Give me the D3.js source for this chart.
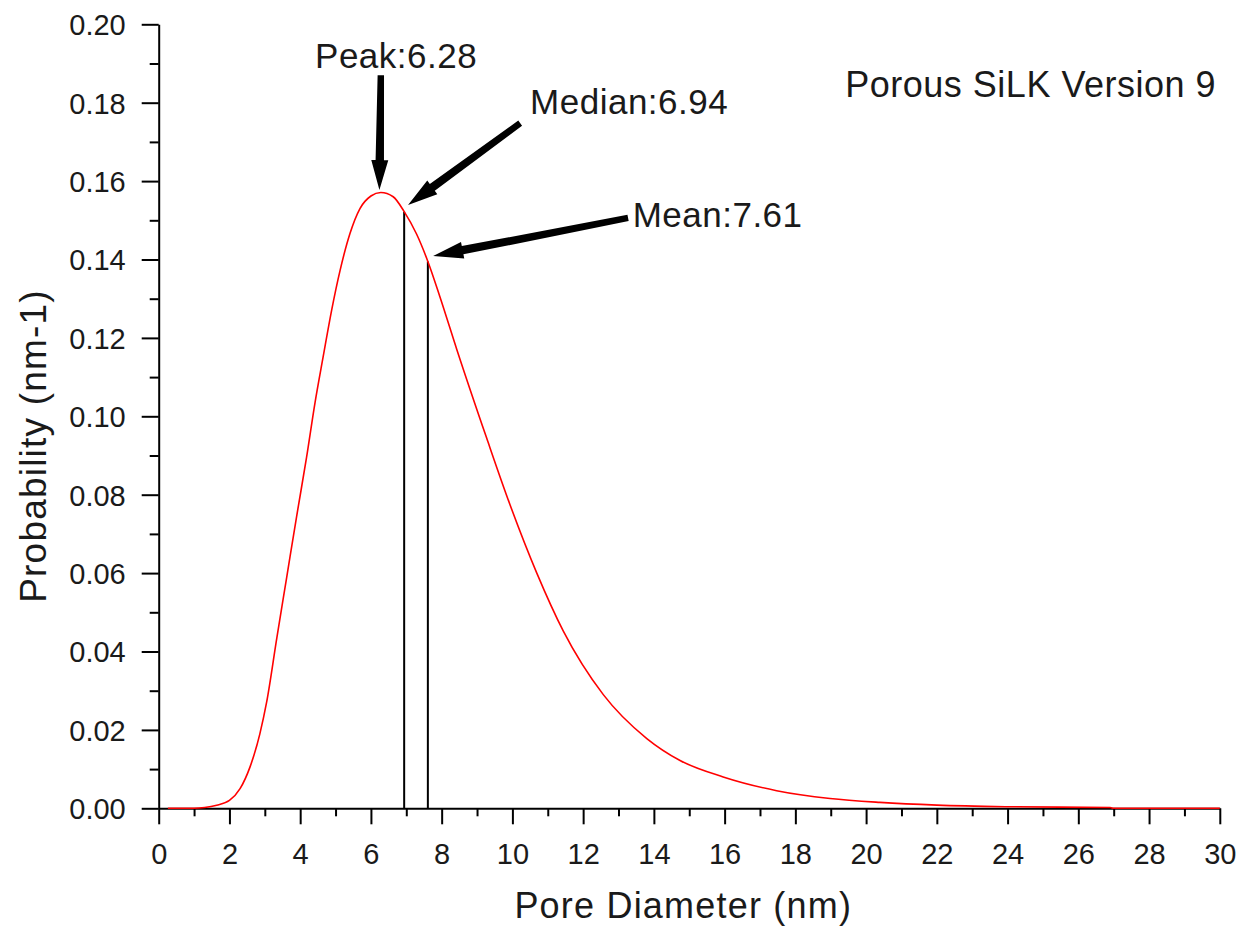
<!DOCTYPE html>
<html>
<head>
<meta charset="utf-8">
<script src="https://cdn.jsdelivr.net/npm/d3@7"></script>
<style>
  html, body { margin: 0; padding: 0; background: #fff; }
  svg { display: block; }
  text { font-family: "Liberation Sans", Arial, sans-serif; fill: #1a1a1a; }
</style>
</head>
<body>
<svg id="chart" width="1245" height="929"></svg>
<script>
// Pore size distribution (probability density vs. pore diameter)
const poreDiameter = [0.26, 1.0, 1.3, 1.64, 2.0, 2.3, 2.58, 2.86, 3.05, 3.34, 3.62, 3.9, 4.18, 4.42, 4.65, 4.89,
  5.13, 5.41, 5.69, 6.0, 6.28, 6.63, 6.94, 7.29, 7.61, 7.95, 8.43, 9.27, 9.93, 10.69, 11.44,
  12.57, 13.8, 14.74, 15.96, 17.47, 18.98, 20.39, 22.0, 24.0, 26.9, 27.0, 30.0];
const probability = [0, 0, 0.0002, 0.0008, 0.002, 0.005, 0.0105, 0.019, 0.027, 0.0435, 0.059, 0.0745, 0.0895, 0.1035, 0.1152, 0.1271,
  0.1373, 0.1467, 0.153, 0.1562, 0.1571, 0.156, 0.1522, 0.1465, 0.1395, 0.1305, 0.117, 0.0945, 0.0775, 0.06, 0.0452,
  0.029, 0.0178, 0.0122, 0.008, 0.0045, 0.0025, 0.0015, 0.0008, 0.0004, 0.0002, 0, 0];

// Statistics of the distribution
const statNames = ["Peak", "Median", "Mean"];
const statValues = [6.28, 6.94, 7.61];
const statHeights = [0.1571, 0.1522, 0.1395]; // curve value at each statistic

// Tick values
const xMajorTicks = d3.range(0, 31, 2);
const xMinorTicks = d3.range(1, 30, 2);
const yMajorTicks = d3.range(0, 0.2001, 0.02);
const yMinorTicks = d3.range(0.01, 0.2, 0.02);

const chartTitle = "Porous SiLK Version 9";
const xTitle = "Pore Diameter (nm)";
const yTitle = "Probability (nm-1)";

// ---- layout ----
const svg = d3.select("#chart");
const plot = { left: 158.7, right: 1219.8, top: 24.3, bottom: 808.3 };

const x = d3.scaleLinear().domain([0, 30]).range([plot.left, plot.right]);
const y = d3.scaleLinear().domain([0, 0.2]).range([plot.bottom, plot.top]);

// curve
const pts = poreDiameter.map((d, i) => [d, probability[i]]);
const line = d3.line().x(d => x(d[0])).y(d => y(d[1])).curve(d3.curveMonotoneX);

// axes
const axisColor = "#000";
const gx = svg.append("g").attr("transform", `translate(0,${plot.bottom})`);
gx.call(d3.axisBottom(x).tickValues(xMajorTicks).tickFormat(d3.format("d")).tickSize(16).tickSizeOuter(0));
gx.append("g").call(d3.axisBottom(x).tickValues(xMinorTicks).tickFormat("").tickSize(8).tickSizeOuter(0))
  .select(".domain").remove();

const gy = svg.append("g").attr("transform", `translate(${plot.left},0)`);
gy.call(d3.axisLeft(y).tickValues(yMajorTicks).tickFormat(d3.format(".2f")).tickSize(17).tickSizeOuter(0));
gy.append("g").call(d3.axisLeft(y).tickValues(yMinorTicks).tickFormat("").tickSize(9).tickSizeOuter(0))
  .select(".domain").remove();

svg.selectAll(".domain").attr("stroke", axisColor).attr("stroke-width", 2);
svg.selectAll(".tick line").attr("stroke", axisColor).attr("stroke-width", 2);
gx.selectAll(".tick text").attr("font-size", 29).attr("font-family", "Liberation Sans, Arial, sans-serif")
  .attr("fill", "#1a1a1a").attr("dy", null).attr("y", 56);
gy.selectAll(".tick text").attr("font-size", 29).attr("font-family", "Liberation Sans, Arial, sans-serif")
  .attr("fill", "#1a1a1a").attr("x", -33).attr("dy", "0.36em");

// vertical markers at median and mean
svg.append("g").selectAll("line")
  .data(statValues.slice(1).map((v, i) => [v, statHeights[i + 1]]))
  .join("line")
  .attr("x1", d => x(d[0])).attr("x2", d => x(d[0]))
  .attr("y1", y(0)).attr("y2", d => y(d[1]))
  .attr("stroke", "#000").attr("stroke-width", 2);

svg.append("path").datum(pts)
  .attr("d", line)
  .attr("fill", "none")
  .attr("stroke", "#ff0000")
  .attr("stroke-width", 1.6);

// annotation arrows: tail (label side) -> tip (on the curve), in data units
const arrowTails = [[6.28, 0.187], [10.22, 0.1748], [13.27, 0.1506]];
const arrowTips  = [[6.24, 0.1577], [7.05, 0.1539], [7.76, 0.1409]];
const labelAnchors = [[4.42, 0.1888], [10.5, 0.1772], [13.4, 0.1483]];

function arrowPath(t0, t1) {
  const [x0, y0] = [x(t0[0]), y(t0[1])];
  const [x1, y1] = [x(t1[0]), y(t1[1])];
  const dx = x1 - x0, dy = y1 - y0, L = Math.hypot(dx, dy);
  const ux = dx / L, uy = dy / L, nx = -uy, ny = ux;
  const headLen = 30, headW = 8.5, shaftTail = 3.2, shaftHead = 4.2;
  const bx = x1 - ux * headLen, by = y1 - uy * headLen;
  const p = [
    [x0 + nx * shaftTail, y0 + ny * shaftTail],
    [bx + nx * shaftHead, by + ny * shaftHead],
    [bx + nx * headW, by + ny * headW],
    [x1, y1],
    [bx - nx * headW, by - ny * headW],
    [bx - nx * shaftHead, by - ny * shaftHead],
    [x0 - nx * shaftTail, y0 - ny * shaftTail]
  ];
  return "M" + p.map(q => q.join(",")).join("L") + "Z";
}

svg.append("g").selectAll("path")
  .data(arrowTails.map((t, i) => [t, arrowTips[i]]))
  .join("path")
  .attr("d", d => arrowPath(d[0], d[1]))
  .attr("fill", "#000");

svg.append("g").selectAll("text")
  .data(statNames.map((n, i) => ({ text: `${n}:${statValues[i].toFixed(2)}`, at: labelAnchors[i] })))
  .join("text")
  .attr("x", d => x(d.at[0])).attr("y", d => y(d.at[1]))
  .attr("font-size", 35)
  .attr("letter-spacing", 0.5)
  .text(d => d.text);

// chart title
svg.append("text")
  .attr("x", 1216).attr("y", 97)
  .attr("text-anchor", "end")
  .attr("font-size", 36)
  .attr("letter-spacing", 0.5)
  .text(chartTitle);

// axis titles
svg.append("text")
  .attr("x", (plot.left + plot.right) / 2 - 6).attr("y", 918)
  .attr("text-anchor", "middle")
  .attr("font-size", 36)
  .attr("letter-spacing", 1.2)
  .text(xTitle);

svg.append("text")
  .attr("transform", `translate(46,${446}) rotate(-90)`)
  .attr("text-anchor", "middle")
  .attr("font-size", 37)
  .attr("letter-spacing", 1.2)
  .text(yTitle);
</script>
</body>
</html>
